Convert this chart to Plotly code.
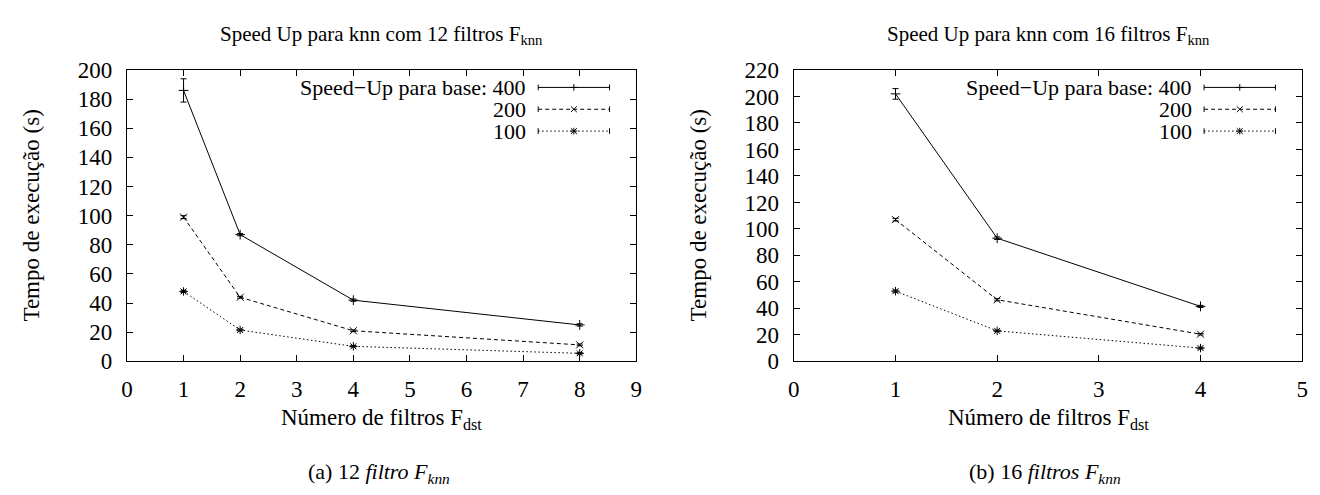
import plotly.graph_objects as go

W, H = 1320, 495

# ---------------- data ----------------
x_left = [1, 2, 4, 8]
y400_left = [186, 87, 42, 25]
e400_left = [8, 0.8, 0.8, 0.8]
y200_left = [99, 44, 21, 11.3]
e200_left = [1.0, 0.6, 0.6, 0.6]
y100_left = [48, 21.5, 10.3, 5.5]
e100_left = [0.8, 0.6, 0.5, 0.5]

x_right = [1, 2, 4]
y400_right = [202, 93, 41.5]
e400_right = [4, 1.0, 0.8]
y200_right = [107, 46.5, 20.5]
e200_right = [1.0, 0.8, 0.6]
y100_right = [53, 23, 10]
e100_right = [0.8, 0.6, 0.6]

x_ticks_left = [0, 1, 2, 3, 4, 5, 6, 7, 8, 9]
x_ticks_right = [0, 1, 2, 3, 4, 5]
y_ticks_left = list(range(0, 201, 20))
y_ticks_right = list(range(0, 221, 20))

series_names = ["Speed\u2212Up para base: 400", "200", "100"]
titles = ["Speed Up para knn com 12 filtros F<sub>knn</sub>",
          "Speed Up para knn com 16 filtros F<sub>knn</sub>"]
xtitle = "Número de filtros F<sub>dst</sub>"
ytitle = "Tempo de execução (s)"
captions = ["(a) 12 <i>filtro F<sub>knn</sub></i>",
            "(b) 16 <i>filtros F<sub>knn</sub></i>"]

FONT = "Liberation Serif, Times New Roman, Times, serif"

def px(x):
    return x / W

def py(y):
    return (H - y) / H

# layout geometry (pixels)
left_dom = (114, 628)
right_dom = (787, 1300)
plot_top, plot_bot = 52.7, 359.5

fig = go.Figure()

styles = [
    dict(dash="solid", symbol="cross-thin-open"),
    dict(dash="4px,3px", symbol="x-thin-open"),
    dict(dash="1.5px,2.5px", symbol="asterisk-open"),
]

def add_series(xs, ys, es, style, xa, ya):
    fig.add_trace(go.Scatter(
        x=xs, y=ys, mode="lines+markers", xaxis=xa, yaxis=ya,
        line=dict(color="black", width=1, dash=style["dash"]),
        marker=dict(symbol=style["symbol"], size=7, color="black",
                    line=dict(color="black", width=1)),
        error_y=dict(type="data", array=es, visible=True, color="black",
                     thickness=1, width=3),
        showlegend=False,
    ))

for ys, es, st in zip([y400_left, y200_left, y100_left],
                      [e400_left, e200_left, e100_left], styles):
    add_series(x_left, ys, es, st, "x", "y")
for ys, es, st in zip([y400_right, y200_right, y100_right],
                      [e400_right, e200_right, e100_right], styles):
    add_series(x_right, ys, es, st, "x2", "y2")

axis_common = dict(
    showline=True, linecolor="black", linewidth=1.3, mirror="allticks",
    ticks="inside", ticklen=6, tickcolor="black", tickwidth=1,
    showgrid=False, zeroline=False,
    tickfont=dict(family=FONT, size=23, color="black"),
)

fig.update_layout(
    width=W, height=H,
    margin=dict(l=0, r=0, t=0, b=0),
    paper_bgcolor="white", plot_bgcolor="white",
    showlegend=False,
    font=dict(family=FONT, color="black"),
    xaxis=dict(domain=[px(left_dom[0]), px(left_dom[1])], range=[0, 9],
               tickvals=x_ticks_left, anchor="y", ticklabelstandoff=7, **axis_common),
    yaxis=dict(domain=[py(plot_bot), py(plot_top)], range=[0, 200],
               tickvals=y_ticks_left, anchor="x", ticklabelstandoff=9, **axis_common),
    xaxis2=dict(domain=[px(right_dom[0]), px(right_dom[1])], range=[0, 5],
                tickvals=x_ticks_right, anchor="y2", ticklabelstandoff=7, **axis_common),
    yaxis2=dict(domain=[py(plot_bot), py(plot_top)], range=[0, 220],
                tickvals=y_ticks_right, anchor="x2", ticklabelstandoff=9, **axis_common),
)

annotations = []
shapes = []

for i, dom in enumerate([left_dom, right_dom]):
    cx = (dom[0] + dom[1]) / 2
    annotations.append(dict(text=titles[i], x=px(cx), y=py(16), xref="paper", yref="paper",
                            showarrow=False, xanchor="center", yanchor="middle",
                            font=dict(family=FONT, size=21, color="black")))
    annotations.append(dict(text=xtitle, x=px(cx), y=py(420), xref="paper", yref="paper",
                            showarrow=False, xanchor="center", yanchor="middle",
                            font=dict(family=FONT, size=23, color="black")))
    annotations.append(dict(text=ytitle, x=px(dom[0] - 96), y=py((plot_top + plot_bot) / 2),
                            xref="paper", yref="paper", textangle=-90,
                            showarrow=False, xanchor="center", yanchor="middle",
                            font=dict(family=FONT, size=23, color="black")))
    annotations.append(dict(text=captions[i], x=px(cx - 3), y=py(477), xref="paper", yref="paper",
                            showarrow=False, xanchor="center", yanchor="middle",
                            font=dict(family=FONT, size=22, color="black")))

# custom gnuplot-like key (text right-aligned, sample on the right)
key_geom = [
    dict(text_end=519, x0=529, x1=601),
    dict(text_end=1191, x0=1201, x1=1273),
]
rows_y = [71, 94, 117]
dashes = ["solid", "4px,3px", "1.5px,2.5px"]
for kg in key_geom:
    for j, name in enumerate(series_names):
        yy = rows_y[j]
        annotations.append(dict(text=name, x=px(kg["text_end"]), y=py(yy),
                                xref="paper", yref="paper", showarrow=False,
                                xanchor="right", yanchor="middle",
                                font=dict(family=FONT, size=22, color="black")))
        shapes.append(dict(type="line", xref="paper", yref="paper",
                           x0=px(kg["x0"]), x1=px(kg["x1"]), y0=py(yy), y1=py(yy),
                           line=dict(color="black", width=1, dash=dashes[j])))
        for xe in (kg["x0"], kg["x1"]):
            shapes.append(dict(type="line", xref="paper", yref="paper",
                               x0=px(xe), x1=px(xe), y0=py(yy - 3), y1=py(yy + 3),
                               line=dict(color="black", width=1)))
        mx = (kg["x0"] + kg["x1"]) / 2
        if j in (0, 2):
            shapes.append(dict(type="line", xref="paper", yref="paper",
                               x0=px(mx - 3.5), x1=px(mx + 3.5), y0=py(yy), y1=py(yy),
                               line=dict(color="black", width=1)))
            shapes.append(dict(type="line", xref="paper", yref="paper",
                               x0=px(mx), x1=px(mx), y0=py(yy - 3.5), y1=py(yy + 3.5),
                               line=dict(color="black", width=1)))
        if j in (1, 2):
            shapes.append(dict(type="line", xref="paper", yref="paper",
                               x0=px(mx - 3), x1=px(mx + 3), y0=py(yy - 3), y1=py(yy + 3),
                               line=dict(color="black", width=1)))
            shapes.append(dict(type="line", xref="paper", yref="paper",
                               x0=px(mx - 3), x1=px(mx + 3), y0=py(yy + 3), y1=py(yy - 3),
                               line=dict(color="black", width=1)))

fig.update_layout(annotations=annotations, shapes=shapes)

fig.write_html("out.html")
